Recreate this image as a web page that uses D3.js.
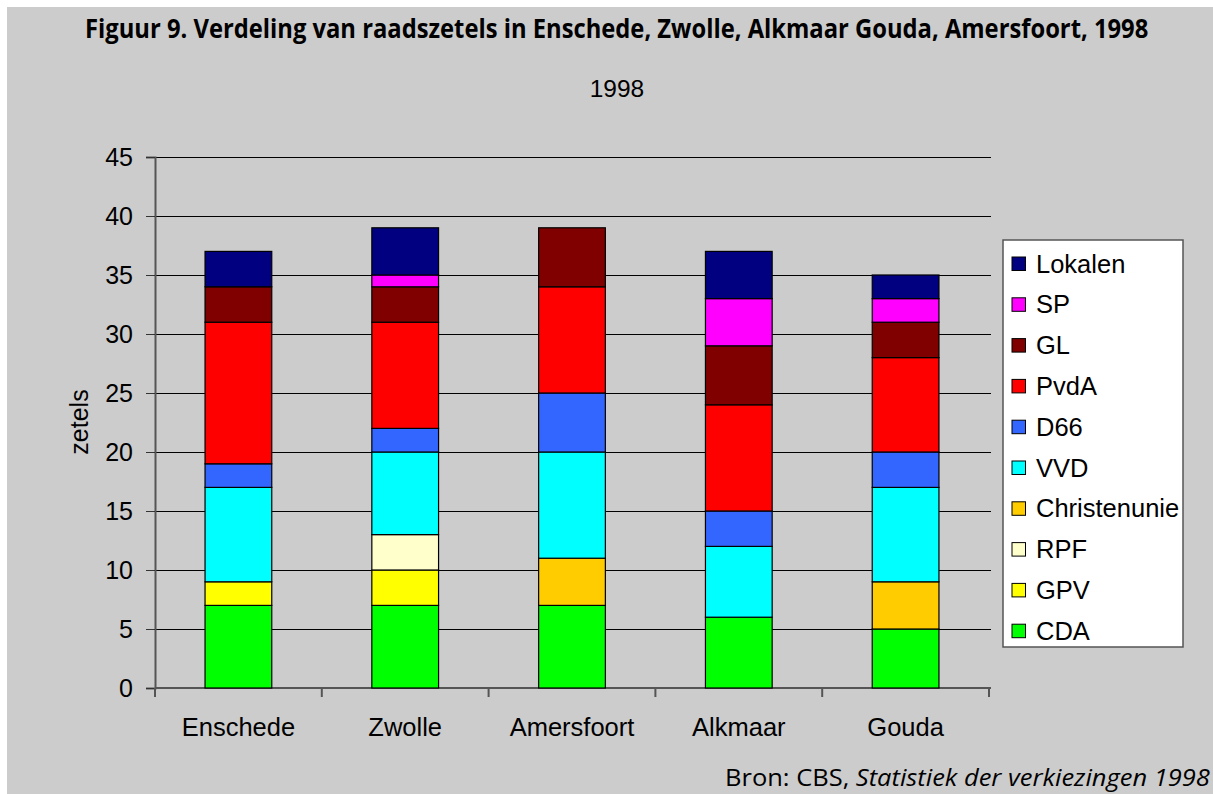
<!DOCTYPE html>
<html><head><meta charset="utf-8">
<script src="https://cdn.jsdelivr.net/npm/d3@7"></script>
<style>body{margin:0;background:#fff}svg{display:block}</style>
</head><body>
<svg id="c" width="1213" height="794"></svg>
<script>
const categories = ["Enschede", "Zwolle", "Amersfoort", "Alkmaar", "Gouda"];
const parties = ["CDA", "GPV", "RPF", "Christenunie", "VVD", "D66", "PvdA", "GL", "SP", "Lokalen"];
const colors = ["#00FF00", "#FFFF00", "#FFFFCC", "#FFCC00", "#00FFFF", "#3366FF", "#FF0000", "#800000", "#FF00FF", "#000080"];
const CDA = [7, 7, 7, 6, 5];
const GPV = [2, 3, 0, 0, 0];
const RPF = [0, 3, 0, 0, 0];
const Christenunie = [0, 0, 4, 0, 4];
const VVD = [8, 7, 9, 6, 8];
const D66 = [2, 2, 5, 3, 3];
const PvdA = [12, 9, 9, 9, 8];
const GL = [3, 3, 5, 5, 3];
const SP = [0, 1, 0, 4, 2];
const Lokalen = [3, 4, 0, 4, 2];
const yTicks = [0, 5, 10, 15, 20, 25, 30, 35, 40, 45];
const seriesValues = [CDA, GPV, RPF, Christenunie, VVD, D66, PvdA, GL, SP, Lokalen];

const svg = d3.select("#c");
const font = "'Liberation Sans', Arial, sans-serif";
svg.append("rect").attr("x", 7).attr("y", 7).attr("width", 1206).attr("height", 787).attr("fill", "#cccccc");

const rows = categories.map((c, i) => {
  const r = {cat: c};
  parties.forEach((p, j) => r[p] = seriesValues[j][i]);
  return r;
});
const stack = d3.stack().keys(parties)(rows);

const x = d3.scaleBand().domain(categories).range([155, 989]).paddingInner(0.6).paddingOuter(0.3);
const y = d3.scaleLinear().domain([0, 45]).range([688, 157]);

// gridlines
svg.append("g").selectAll("line").data(yTicks.slice(1)).join("line")
  .attr("x1", 155).attr("x2", 991).attr("y1", d => y(d)).attr("y2", d => y(d))
  .attr("stroke", "#000").attr("stroke-width", 1).attr("shape-rendering", "crispEdges");

// y axis
const yAxis = svg.append("g").attr("transform", "translate(155,0)")
  .call(d3.axisLeft(y).tickValues(yTicks).tickSize(9).tickPadding(13));
yAxis.select(".domain").attr("stroke", "#555").attr("stroke-width", 2);
yAxis.selectAll(".tick line").attr("stroke", "#333");
yAxis.selectAll("text").attr("font-family", font).attr("font-size", 25).attr("fill", "#000");

// x axis
const xb = d3.scaleLinear().domain([0, 5]).range([155, 989]);
const xAxis = svg.append("g").attr("transform", "translate(0,688)");
xAxis.append("line").attr("x1", 155).attr("x2", 991).attr("y1", 0).attr("y2", 0).attr("stroke", "#555").attr("stroke-width", 2);
xAxis.selectAll("line.t").data(d3.range(6)).join("line").attr("class", "t")
  .attr("x1", d => xb(d)).attr("x2", d => xb(d)).attr("y1", 0).attr("y2", 9).attr("stroke", "#555").attr("stroke-width", 2);
xAxis.selectAll("text").data(categories).join("text")
  .attr("x", d => x(d) + x.bandwidth() / 2).attr("y", 48).attr("text-anchor", "middle")
  .attr("font-family", font).attr("font-size", 25.5).attr("fill", "#000").text(d => d);

// bars
svg.append("g").selectAll("g").data(stack).join("g")
  .attr("fill", (d, i) => colors[i])
  .selectAll("rect").data(d => d.filter(s => s[1] - s[0] > 0)).join("rect")
  .attr("x", d => x(d.data.cat)).attr("width", x.bandwidth())
  .attr("y", d => y(d[1])).attr("height", d => y(d[0]) - y(d[1]))
  .attr("stroke", "#000").attr("stroke-width", 1.2);

// title: horizontally scaled to fit like a condensed face
const tg = svg.append("g");
const tt = tg.append("text").attr("x", 0).attr("y", 0).attr("font-family", "'Open Sans', sans-serif").attr("font-weight", "bold")
  .attr("font-size", 27.5).attr("fill", "#000")
  .text("Figuur 9. Verdeling van raadszetels in Enschede, Zwolle, Alkmaar Gouda, Amersfoort, 1998");
const tl = tt.node().getComputedTextLength();
tg.attr("transform", `translate(85,38) scale(${1064 / tl},1)`);

svg.append("text").attr("x", 617).attr("y", 97).attr("text-anchor", "middle").attr("font-family", font)
  .attr("font-size", 24.5).attr("fill", "#000").text("1998");
svg.append("text").attr("transform", "translate(88,422) rotate(-90)").attr("text-anchor", "middle")
  .attr("font-family", font).attr("font-size", 25).attr("fill", "#000").text("zetels");

const sg = svg.append("g");
const src = sg.append("text").attr("x", 0).attr("y", 0).attr("font-family", "'Open Sans', sans-serif")
  .attr("font-size", 24).attr("fill", "#000");
src.append("tspan").text("Bron: CBS, ");
src.append("tspan").attr("font-style", "italic").text("Statistiek der verkiezingen 1998");
const sl = src.node().getComputedTextLength();
sg.attr("transform", `translate(725,786) scale(${485 / sl},1)`);

// legend
const lg = svg.append("g");
lg.append("rect").attr("x", 1003).attr("y", 240).attr("width", 180).attr("height", 407)
  .attr("fill", "#fff").attr("stroke", "#555").attr("stroke-width", 1.5);
const legendOrder = parties.slice().reverse();
const li = lg.selectAll("g").data(legendOrder).join("g")
  .attr("transform", (d, i) => `translate(0,${264 + i * 40.8})`);
li.append("rect").attr("x", 1012).attr("y", -7).attr("width", 13.5).attr("height", 13.5)
  .attr("fill", d => colors[parties.indexOf(d)]).attr("stroke", "#000").attr("stroke-width", 1);
li.append("text").attr("x", 1036).attr("y", 8.5).attr("font-family", font).attr("font-size", 25.5)
  .attr("fill", "#000").text(d => d);
</script>
</body></html>
